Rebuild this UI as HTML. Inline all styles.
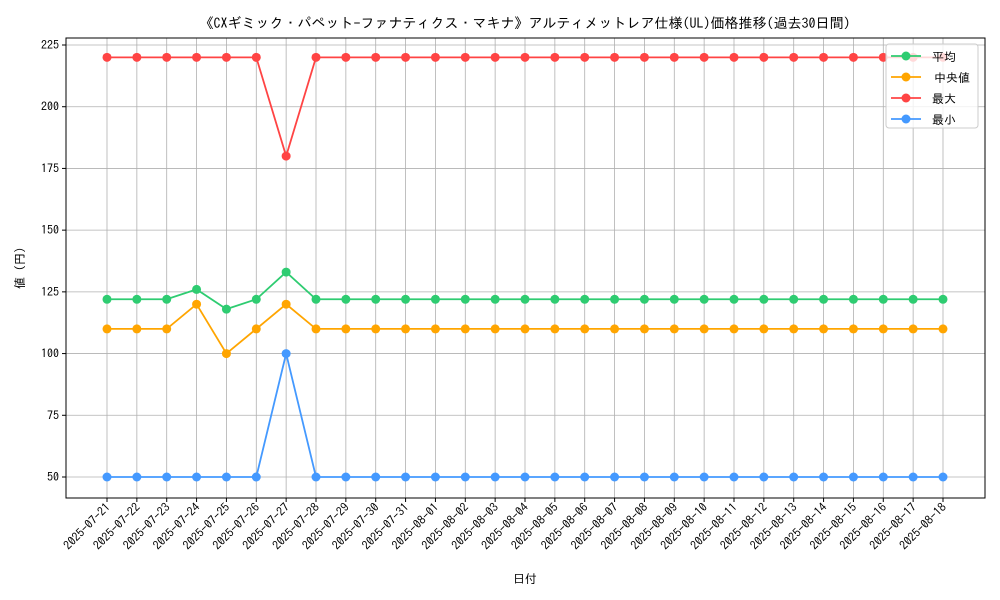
<!DOCTYPE html>
<html><head><meta charset="utf-8"><style>body{margin:0;background:#fff}svg{display:block}text{font-family:"IPAGothic","Noto Sans CJK JP",sans-serif;fill:#000}</style></head>
<body>
<svg id="chart" width="1000" height="600" xmlns="http://www.w3.org/2000/svg">
<text x="525" y="28" text-anchor="middle" font-size="14">《CXギミック・パペット-ファナティクス・マキナ》アルティメットレア仕様(UL)価格推移(過去30日間)</text>
<g id="grid"></g><g id="ticks"></g><g id="series"></g>
<rect x="66" y="38" width="919" height="460" fill="none" stroke="#000" stroke-width="1"/>
<text x="525" y="583" text-anchor="middle" font-size="12">日付</text>
<text transform="translate(24,268) rotate(-90)" text-anchor="middle" font-size="12">値 (円)</text>
<g id="legend"></g>
</svg>
<script>
const dates=["2025-07-21","2025-07-22","2025-07-23","2025-07-24","2025-07-25","2025-07-26","2025-07-27","2025-07-28","2025-07-29","2025-07-30","2025-07-31","2025-08-01","2025-08-02","2025-08-03","2025-08-04","2025-08-05","2025-08-06","2025-08-07","2025-08-08","2025-08-09","2025-08-10","2025-08-11","2025-08-12","2025-08-13","2025-08-14","2025-08-15","2025-08-16","2025-08-17","2025-08-18"];
const avgVals=[122,122,122,126,118,122,133,122,122,122,122,122,122,122,122,122,122,122,122,122,122,122,122,122,122,122,122,122,122];
const medVals=[110,110,110,120,100,110,120,110,110,110,110,110,110,110,110,110,110,110,110,110,110,110,110,110,110,110,110,110,110];
const maxVals=[220,220,220,220,220,220,180,220,220,220,220,220,220,220,220,220,220,220,220,220,220,220,220,220,220,220,220,220,220];
const minVals=[50,50,50,50,50,50,100,50,50,50,50,50,50,50,50,50,50,50,50,50,50,50,50,50,50,50,50,50,50];
const yTicks=[50,75,100,125,150,175,200,225];
const names=["平均","中央値","最大","最小"];
const colors=["#2ecc71","#ffa500","#ff4444","#4499ff"];
const NS="http://www.w3.org/2000/svg";
const x=i=>107+i*(943-107)/(dates.length-1);
const y=v=>477-(v-50)*(477-45)/175;
function mk(p,t,a){const e=document.createElementNS(NS,t);for(const k in a)e.setAttribute(k,a[k]);p.appendChild(e);return e;}
const grid=document.getElementById('grid'),ticks=document.getElementById('ticks'),ser=document.getElementById('series');
dates.forEach((d,i)=>{
 const g=mk(grid,'line',{x1:x(i),x2:x(i),y1:38,y2:498,stroke:'#b0b0b0','stroke-width':0.8});
 
 const t=mk(ticks,'line',{x1:x(i),x2:x(i),y1:498,y2:502,stroke:'#000'});
 
 const l=mk(ticks,'text',{x:x(i)+4,y:508,'text-anchor':'end','font-size':12,transform:`rotate(-45 ${x(i)+4} 508)`});
 l.textContent=d;
});
yTicks.forEach(v=>{
 const g=mk(grid,'line',{x1:66,x2:985,y1:y(v),y2:y(v),stroke:'#b0b0b0','stroke-width':0.8});
 
 const t=mk(ticks,'line',{x1:62,x2:66,y1:y(v),y2:y(v),stroke:'#000'});
 
 const l=mk(ticks,'text',{x:59,y:y(v)+4,'text-anchor':'end','font-size':12});
 l.textContent=v;
});
[avgVals,medVals,maxVals,minVals].forEach((vals,s)=>{
 const g=mk(ser,'g',{});
 const pl=mk(g,'polyline',{points:vals.map((v,i)=>x(i)+','+y(v)).join(' '),fill:'none',stroke:colors[s],'stroke-width':1.8});
 
 vals.forEach((v,i)=>{const c=mk(g,'circle',{cx:x(i),cy:y(v),r:4.5,fill:colors[s]});
  });
});
const lg=document.getElementById('legend');
const box=mk(lg,'rect',{x:886,y:44,width:92,height:84,rx:3,fill:'#fff','fill-opacity':0.8,stroke:'#ccc'});

names.forEach((n,s)=>{
 const yy=56+s*21;
 const e=mk(lg,'g',{});
 mk(e,'line',{x1:891,x2:921,y1:yy,y2:yy,stroke:colors[s],'stroke-width':1.8});
 mk(e,'circle',{cx:906,cy:yy,r:4.5,fill:colors[s]});
 const t=mk(e,'text',{x:932+(s==1?2:0),y:yy+5,'font-size':12});t.textContent=n;
});
</script>
</body></html>
